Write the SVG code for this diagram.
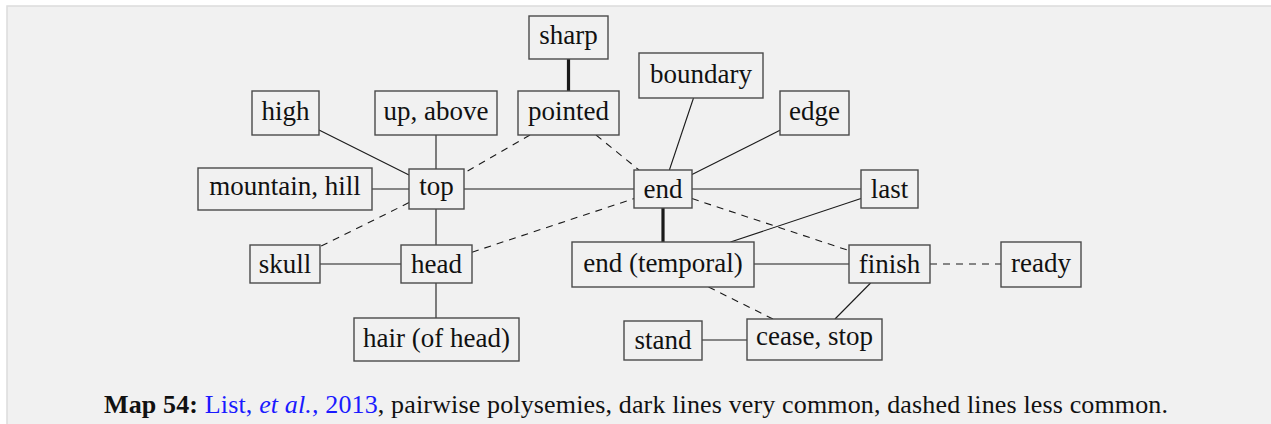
<svg xmlns="http://www.w3.org/2000/svg" width="1271" height="424" viewBox="0 0 1271 424">
<style>
.bg{fill:#f1f1f1;stroke:#dcdcdc;stroke-width:1.5}
.box{fill:#f1f1f1;stroke:#4a4a4a;stroke-width:1.4}
.lbl{font-family:"Liberation Serif","Times New Roman",serif;font-size:27px;fill:#111;text-anchor:middle}
.e{stroke:#1a1a1a;stroke-width:1.1;fill:none}
.d{stroke-dasharray:7 6}
.t{stroke-width:3.2}
.cap{font-family:"Liberation Serif","Times New Roman",serif;font-size:26px;fill:#111}
.lnk{fill:#1a1aff}
</style>
<rect x="7" y="6" width="1270" height="430" class="bg"/>
<g id="connectors">
<line class="e t" x1="568.5" y1="59" x2="568.5" y2="91"/>
<line class="e" x1="319" y1="130" x2="409" y2="175"/>
<line class="e" x1="436" y1="135" x2="436" y2="169"/>
<line class="e d" x1="530" y1="135" x2="464" y2="173"/>
<line class="e d" x1="596" y1="135" x2="639" y2="170"/>
<line class="e" x1="372" y1="189" x2="409" y2="189"/>
<line class="e" x1="464" y1="189" x2="634" y2="189"/>
<line class="e d" x1="409" y1="202.6" x2="320" y2="246.7"/>
<line class="e" x1="436" y1="209" x2="436" y2="245"/>
<line class="e" x1="320" y1="264" x2="401" y2="264"/>
<line class="e" x1="436" y1="283" x2="436" y2="318"/>
<line class="e d" x1="472" y1="252.2" x2="634" y2="198.6"/>
<line class="e" x1="693.5" y1="98" x2="669.4" y2="170"/>
<line class="e" x1="780" y1="130.3" x2="692" y2="174.5"/>
<line class="e" x1="692" y1="189" x2="861" y2="189"/>
<line class="e t" x1="663" y1="208" x2="663" y2="242"/>
<line class="e d" x1="692" y1="198.6" x2="849" y2="250.6"/>
<line class="e" x1="861" y1="198.5" x2="730.5" y2="242"/>
<line class="e" x1="754" y1="264" x2="849" y2="264"/>
<line class="e d" x1="930" y1="264" x2="1001" y2="264"/>
<line class="e d" x1="708.5" y1="287" x2="773" y2="319"/>
<line class="e" x1="870.6" y1="283" x2="835" y2="319"/>
<line class="e" x1="702" y1="340" x2="747" y2="340"/>
</g>
<g id="n-sharp"><rect class="box" x="529" y="16" width="79" height="43"/><text class="lbl" x="568.5" y="43.5">sharp</text></g>
<g id="n-pointed"><rect class="box" x="518" y="91" width="101" height="44"/><text class="lbl" x="568.5" y="119.5">pointed</text></g>
<g id="n-high"><rect class="box" x="252" y="91" width="67" height="44"/><text class="lbl" x="285.5" y="119.5">high</text></g>
<g id="n-up"><rect class="box" x="375" y="91" width="122" height="44"/><text class="lbl" x="436" y="119.5">up, above</text></g>
<g id="n-boundary"><rect class="box" x="639" y="53" width="124" height="45"/><text class="lbl" x="701" y="82.5">boundary</text></g>
<g id="n-edge"><rect class="box" x="780" y="91" width="69" height="44"/><text class="lbl" x="814.5" y="119.5">edge</text></g>
<g id="n-mountain"><rect class="box" x="198" y="168" width="174" height="42"/><text class="lbl" x="285" y="195">mountain, hill</text></g>
<g id="n-top"><rect class="box" x="409" y="169" width="55" height="40"/><text class="lbl" x="436.5" y="195">top</text></g>
<g id="n-end"><rect class="box" x="634" y="170" width="58" height="38"/><text class="lbl" x="663" y="198">end</text></g>
<g id="n-last"><rect class="box" x="861" y="170" width="57" height="38"/><text class="lbl" x="889.5" y="198">last</text></g>
<g id="n-skull"><rect class="box" x="250" y="245" width="70" height="38"/><text class="lbl" x="285" y="273">skull</text></g>
<g id="n-head"><rect class="box" x="401" y="245" width="71" height="38"/><text class="lbl" x="436.5" y="273">head</text></g>
<g id="n-hair"><rect class="box" x="354" y="318" width="165" height="43"/><text class="lbl" x="436.5" y="346.5">hair (of head)</text></g>
<g id="n-endtemporal"><rect class="box" x="572" y="242" width="182" height="45"/><text class="lbl" x="663" y="271.5">end (temporal)</text></g>
<g id="n-finish"><rect class="box" x="849" y="245" width="81" height="38"/><text class="lbl" x="889.5" y="273">finish</text></g>
<g id="n-ready"><rect class="box" x="1001" y="242" width="80" height="45"/><text class="lbl" x="1041" y="271.5">ready</text></g>
<g id="n-stand"><rect class="box" x="624" y="321" width="78" height="39"/><text class="lbl" x="663" y="349">stand</text></g>
<g id="n-cease"><rect class="box" x="747" y="319" width="135" height="41"/><text class="lbl" x="814.5" y="345">cease, stop</text></g>
<text class="cap" x="104" y="413" textLength="1064" lengthAdjust="spacing"><tspan font-weight="bold">Map 54:</tspan> <tspan class="lnk">List, <tspan font-style="italic">et al.,</tspan> 2013</tspan>, pairwise polysemies, dark lines very common, dashed lines less common.</text>
</svg>
